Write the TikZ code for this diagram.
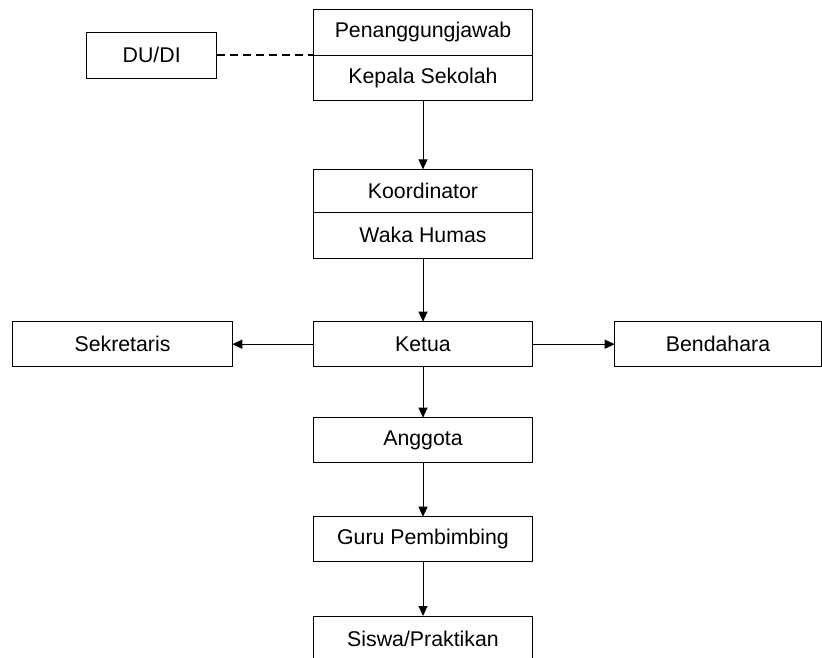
\documentclass[tikz,border=0pt]{standalone}
\usepackage{fontspec}
\setmainfont{Liberation Sans}
\usetikzlibrary{arrows.meta}
\begin{document}
\begin{tikzpicture}[x=1pt, y=-1pt,
    box/.style={draw, line width=0.9pt, minimum width=219pt, minimum height=45pt,
        inner sep=0pt, outer sep=0pt, font=\fontsize{21.3}{25}\selectfont},
    arr/.style={-{Triangle[length=10pt,width=9pt]}, line width=0.9pt}]
    \useasboundingbox (0,0) rectangle (822,657);
    % Penanggungjawab / Kepala Sekolah
    \node[box, minimum height=45.7pt] (pj) at (423,32.2) {Penanggungjawab};
    \node[box] (ks) at (423,77.5) {Kepala Sekolah};
    % DU/DI
    \node[box, minimum width=130pt, minimum height=46pt] (dudi) at (151.7,55.3) {DU/DI};
    \draw[line width=2pt, dash pattern=on 8pt off 5pt] (dudi.east) -- (dudi.east -| pj.west);
    % Koordinator / Waka Humas
    \node[box, minimum height=42.7pt] (ko) at (423,190.7) {Koordinator};
    \node[box, minimum height=46.3pt] (wh) at (423,235.2) {Waka Humas};
    \draw[arr] (ks) -- (ko);
    % Ketua, Sekretaris, Bendahara
    \node[box] (ketua) at (423,344.2) {Ketua};
    \node[box, minimum width=219.6pt] (sek) at (122.5,344.2) {Sekretaris};
    \node[box, minimum width=206.6pt] (bend) at (718,344.2) {Bendahara};
    \draw[arr] (wh) -- (ketua);
    \draw[arr] (ketua) -- (sek);
    \draw[arr] (ketua) -- (bend);
    % Anggota, Guru Pembimbing, Siswa/Praktikan
    \node[box] (anggota) at (423,440.2) {Anggota};
    \node[box] (guru) at (423,539.2) {Guru Pembimbing};
    \node[box] (siswa) at (423,638.5) {Siswa/Praktikan};
    \draw[arr] (ketua) -- (anggota);
    \draw[arr] (anggota) -- (guru);
    \draw[arr] (guru) -- (siswa);
\end{tikzpicture}
\end{document}
